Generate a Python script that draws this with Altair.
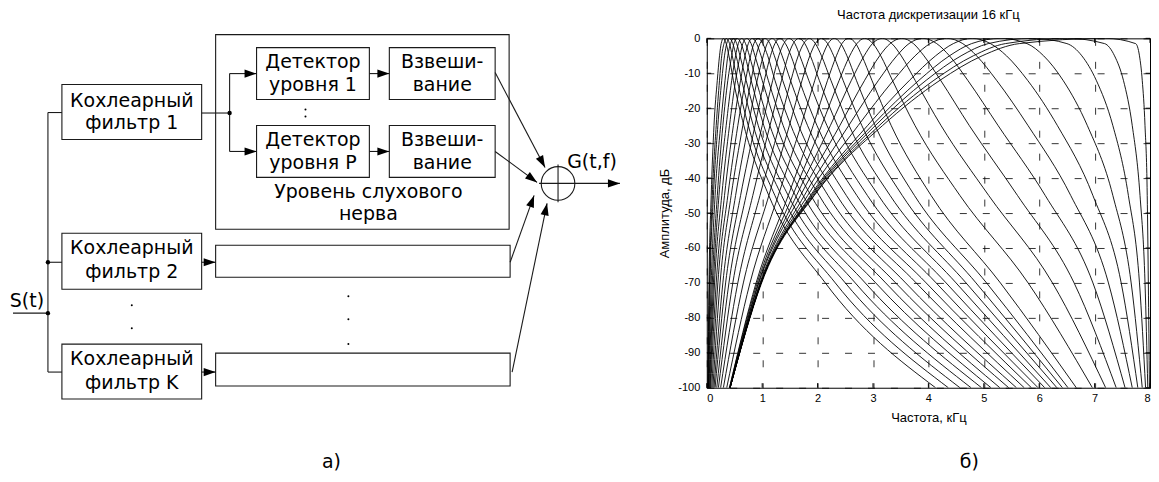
import math
import altair as alt
import pandas as pd

FONT = "Liberation Sans"
DFONT = "DejaVu Sans"
INK = "#1a1a1a"

# ================= left: block diagram (page pixel coordinates) =================
BOX_X1 = [61, 61, 61, 256, 256, 389, 389, 215, 215, 215]
BOX_X2 = [201, 201, 201, 369, 369, 495, 495, 509, 510, 510]
BOX_Y1 = [84, 233, 344, 47, 125, 47, 125, 34, 245, 353]
BOX_Y2 = [139, 289, 399, 99, 177, 99, 177, 229, 277, 386]

TXT_X = [131, 131, 131, 131, 131, 131, 312.5, 312.5, 312.5, 312.5, 442, 442, 442, 442, 368, 368, 592, 26, 331, 970]
TXT_Y = [106, 129, 254, 278, 365, 389, 67, 90, 145.5, 168.5, 67, 90, 145.5, 168.5, 198, 220, 168, 307, 468, 468]
TXT_S = ["Кохлеарный", "фильтр 1", "Кохлеарный", "фильтр 2", "Кохлеарный", "фильтр K",
         "Детектор", "уровня 1", "Детектор", "уровня P", "Взвеши-", "вание", "Взвеши-", "вание",
         "Уровень слухового", "нерва", "G(t,f)", "S(t)", "а)", "б)"]

SEG_X1 = [47, 47, 47, 47, 12, 201, 229, 558, 539]
SEG_Y1 = [112, 112, 262, 372, 313, 112.5, 73, 164, 183]
SEG_X2 = [47, 61, 61, 61, 47, 229, 229, 558, 577]
SEG_Y2 = [372, 112, 262, 372, 313, 112.5, 151, 202, 183]

ARR_X1 = [229, 229, 369, 369, 495, 495, 510, 512, 201, 201, 577]
ARR_Y1 = [73, 151, 73, 151, 72, 151, 262, 372, 262, 372, 183]
ARR_X2 = [256, 256, 389, 389, 545, 537, 534, 547, 215, 215, 620]
ARR_Y2 = [73, 151, 73, 151, 167, 182, 195, 203, 262, 372, 183]

JDOT_X = [229, 47, 47]
JDOT_Y = [112.5, 262, 313]
SDOT_X = [131, 131, 348, 348, 348, 305, 305]
SDOT_Y = [305, 328, 296, 319, 344, 109, 116]
SUM_X = [558]
SUM_Y = [183]

XS = alt.Scale(domain=[8, 707], nice=False, zero=False)
YS = alt.Scale(domain=[37.7, 470], nice=False, zero=False, reverse=True)

boxes = pd.DataFrame({"x": BOX_X1, "x2": BOX_X2, "y": BOX_Y1, "y2": BOX_Y2})
texts = pd.DataFrame({"x": TXT_X, "y": TXT_Y, "t": TXT_S})
segs = pd.DataFrame({"x": SEG_X1, "y": SEG_Y1, "x2": SEG_X2, "y2": SEG_Y2})
arrs = pd.DataFrame({"x": ARR_X1, "y": ARR_Y1, "x2": ARR_X2, "y2": ARR_Y2})
arrs["ang"] = [(math.degrees(math.atan2(b - a, -(d - c)))) % 360
               for a, c, b, d in zip(ARR_X1, ARR_Y1, ARR_X2, ARR_Y2)]
jd = pd.DataFrame({"x": JDOT_X, "y": JDOT_Y})
sd = pd.DataFrame({"x": SDOT_X, "y": SDOT_Y})
sm = pd.DataFrame({"x": SUM_X, "y": SUM_Y})

def X(f="x"):
    return alt.X(f + ":Q", scale=XS, axis=None)
def Y(f="y"):
    return alt.Y(f + ":Q", scale=YS, axis=None)

l_boxes = alt.Chart(boxes).mark_rect(fillOpacity=0, stroke=INK, strokeWidth=1.1).encode(
    x=X(), x2="x2:Q", y=Y(), y2="y2:Q")
l_segs = alt.Chart(segs).mark_rule(color=INK, strokeWidth=1.1).encode(x=X(), x2="x2:Q", y=Y(), y2="y2:Q")
l_arrs = alt.Chart(arrs).mark_rule(color=INK, strokeWidth=1.1).encode(x=X(), x2="x2:Q", y=Y(), y2="y2:Q")
ARROW = "M0,0L-0.34,1L0.34,1Z"
l_heads = alt.Chart(arrs).mark_point(shape=ARROW, filled=True, size=576, color="black", opacity=1).encode(
    x=X("x2"), y=Y("y2"), angle=alt.Angle("ang:Q", scale=None))
l_jd = alt.Chart(jd).mark_point(shape="circle", filled=True, size=19, color="black", opacity=1).encode(x=X(), y=Y())
l_sd = alt.Chart(sd).mark_point(shape="circle", filled=True, size=4, color="black", opacity=1).encode(x=X(), y=Y())
l_sum = alt.Chart(sm).mark_point(shape="circle", filled=False, size=1134, color=INK, strokeWidth=1.1, opacity=1).encode(x=X(), y=Y())
l_txt = alt.Chart(texts).mark_text(font=DFONT, fontSize=19, align="center", baseline="alphabetic", color="black").encode(
    x=X(), y=Y(), text="t:N")

left = alt.layer(l_boxes, l_segs, l_arrs, l_heads, l_jd, l_sd, l_sum, l_txt).properties(
    width=699, height=432.3, view=alt.ViewBackground(stroke="transparent"))

# ================= right: cochlear filter bank responses =================
# each curve: frequency (kHz) where it crosses the levels LEV on its rising side,
# the frequency of its 0 dB peak, and the crossings on its falling side
LEV = [-100, -70, -45, -25, -12, -5, -1.5]
FC = [0.30, 0.35, 0.41, 0.48, 0.55, 0.63, 0.72, 0.82, 0.93, 1.05,
      1.18, 1.32, 1.48, 1.66, 1.85, 2.07, 2.30, 2.56, 2.85, 3.17, 3.52, 3.90, 4.33, 4.79, 5.31, 5.88, 6.51, 7.20]
RISE = [
    [0.02, 0.04, 0.08, 0.13, 0.19, 0.23, 0.26],
    [0.02, 0.05, 0.10, 0.17, 0.23, 0.27, 0.31],
    [0.03, 0.06, 0.12, 0.20, 0.27, 0.32, 0.36],
    [0.03, 0.08, 0.15, 0.25, 0.33, 0.38, 0.43],
    [0.04, 0.10, 0.19, 0.29, 0.38, 0.45, 0.49],
    [0.05, 0.12, 0.22, 0.35, 0.45, 0.52, 0.57],
    [0.06, 0.14, 0.27, 0.41, 0.52, 0.60, 0.65],
    [0.07, 0.17, 0.32, 0.48, 0.61, 0.69, 0.75],
    [0.09, 0.20, 0.38, 0.56, 0.70, 0.79, 0.85],
    [0.11, 0.24, 0.44, 0.65, 0.80, 0.89, 0.96],
    [0.13, 0.29, 0.52, 0.75, 0.91, 1.02, 1.09],
    [0.15, 0.34, 0.61, 0.87, 1.04, 1.15, 1.23],
    [0.18, 0.40, 0.71, 1.00, 1.19, 1.30, 1.39],
    [0.21, 0.47, 0.83, 1.14, 1.35, 1.47, 1.56],
    [0.25, 0.56, 0.96, 1.31, 1.52, 1.65, 1.75],
    [0.30, 0.66, 1.12, 1.49, 1.72, 1.86, 1.96],
    [0.36, 0.78, 1.29, 1.70, 1.95, 2.09, 2.19],
    [0.41, 0.89, 1.47, 1.92, 2.18, 2.34, 2.44],
    [0.41, 0.91, 1.55, 2.07, 2.39, 2.58, 2.71],
    [0.42, 0.93, 1.62, 2.23, 2.61, 2.84, 2.99],
    [0.42, 0.94, 1.69, 2.40, 2.85, 3.12, 3.31],
    [0.42, 0.96, 1.76, 2.56, 3.10, 3.43, 3.65],
    [0.42, 0.97, 1.82, 2.73, 3.37, 3.76, 4.03],
    [0.42, 0.98, 1.87, 2.90, 3.66, 4.13, 4.45],
    [0.42, 0.98, 1.89, 2.98, 3.83, 4.38, 4.78],
    [0.42, 0.98, 1.91, 3.04, 3.96, 4.59, 5.08],
    [0.42, 0.98, 1.93, 3.11, 4.10, 4.81, 5.39],
    [0.42, 0.99, 1.94, 3.17, 4.21, 4.97, 5.64],
]
FALL = [
    [4.13, 2.14, 1.12, 0.67, 0.48, 0.40, 0.35],
    [4.36, 2.32, 1.23, 0.75, 0.55, 0.46, 0.41],
    [4.57, 2.50, 1.35, 0.84, 0.63, 0.53, 0.47],
    [4.77, 2.68, 1.47, 0.93, 0.71, 0.60, 0.54],
    [4.96, 2.86, 1.60, 1.03, 0.80, 0.69, 0.62],
    [5.13, 3.05, 1.74, 1.14, 0.89, 0.77, 0.70],
    [5.29, 3.23, 1.88, 1.26, 1.00, 0.87, 0.80],
    [5.45, 3.41, 2.03, 1.38, 1.11, 0.98, 0.90],
    [5.59, 3.59, 2.19, 1.52, 1.23, 1.10, 1.01],
    [5.73, 3.78, 2.35, 1.66, 1.37, 1.22, 1.14],
    [5.86, 3.96, 2.52, 1.82, 1.51, 1.36, 1.27],
    [5.98, 4.14, 2.71, 1.99, 1.67, 1.52, 1.42],
    [6.10, 4.32, 2.90, 2.17, 1.84, 1.68, 1.59],
    [6.21, 4.50, 3.10, 2.36, 2.03, 1.87, 1.77],
    [6.32, 4.68, 3.31, 2.57, 2.24, 2.07, 1.96],
    [6.42, 4.86, 3.53, 2.80, 2.46, 2.29, 2.18],
    [6.52, 5.05, 3.75, 3.04, 2.70, 2.53, 2.42],
    [6.67, 5.30, 4.05, 3.33, 2.98, 2.80, 2.69],
    [6.96, 5.80, 4.57, 3.76, 3.35, 3.14, 3.00],
    [7.20, 6.24, 5.09, 4.23, 3.76, 3.51, 3.34],
    [7.39, 6.63, 5.61, 4.74, 4.22, 3.92, 3.73],
    [7.55, 6.97, 6.11, 5.26, 4.71, 4.38, 4.15],
    [7.68, 7.25, 6.57, 5.80, 5.23, 4.87, 4.62],
    [7.78, 7.48, 6.97, 6.33, 5.79, 5.41, 5.12],
    [7.86, 7.66, 7.33, 6.87, 6.43, 6.08, 5.78],
    [7.92, 7.81, 7.61, 7.33, 7.03, 6.77, 6.50],
    [7.96, 7.91, 7.82, 7.68, 7.52, 7.36, 7.18],
    [7.99, 7.97, 7.95, 7.91, 7.86, 7.81, 7.74],
]

rows = []
for k in range(len(FC)):
    for f, d in zip(RISE[k], LEV):
        rows.append({"f": f, "db": d, "k": k})
    rows.append({"f": FC[k], "db": 0, "k": k})
    for f, d in zip(FALL[k], LEV):
        rows.append({"f": f, "db": d, "k": k})
cdf = pd.DataFrame(rows)

XT = [0, 1, 2, 3, 4, 5, 6, 7, 8]
YT = [0, -10, -20, -30, -40, -50, -60, -70, -80, -90, -100]
xsc = alt.Scale(domain=[0, 8], nice=False, zero=False)
ysc = alt.Scale(domain=[-100, 0], nice=False, zero=False)
AX_X = alt.Axis(values=XT, title="Частота, кГц", grid=True, gridDash=[7, 16], gridColor="black", gridWidth=0.8,
                ticks=False, domain=False, labelPadding=5, labelFontSize=11, labelFlush=True,
                labelExpr="'' + datum.value", titleX=222, titleY=30, titleAlign="center",
                titleBaseline="middle", titleFontSize=13)
AX_Y = alt.Axis(values=YT, title="Амплитуда, дБ", grid=True, gridDash=[7, 16], gridColor="black", gridWidth=0.8,
                ticks=False, domain=False, labelPadding=7, labelFontSize=11,
                labelExpr="'' + datum.value", titleX=-42, titleY=175, titleAngle=270, titleAlign="center",
                titleBaseline="middle", titleFontSize=13)

curves = alt.Chart(cdf).mark_line(color="black", strokeWidth=0.9, clip=True, interpolate="monotone").encode(
    x=alt.X("f:Q", scale=xsc, axis=AX_X),
    y=alt.Y("db:Q", scale=ysc, axis=AX_Y),
    detail="k:N", order="f:Q")

tk = pd.DataFrame({
    "f": XT + XT + [0] * 11 + [8] * 11,
    "f2": XT + XT + [0.08] * 11 + [7.92] * 11,
    "db": [0] * 9 + [-100] * 9 + YT + YT,
    "db2": [-1.3] * 9 + [-98.7] * 9 + YT + YT,
})
ticks = alt.Chart(tk).mark_rule(color="black", strokeWidth=1).encode(
    x=alt.X("f:Q", scale=xsc, axis=AX_X), x2="f2:Q", y=alt.Y("db:Q", scale=ysc, axis=AX_Y), y2="db2:Q")

right = alt.layer(curves, ticks).properties(
    width=444, height=350,
    title=alt.TitleParams("Частота дискретизации 16 кГц", offset=0, baseline="alphabetic", anchor="middle",
                          fontSize=13, font=FONT, fontWeight="normal", color="black"))

chart = alt.hconcat(left, right, spacing=0, bounds="flush").properties(padding=0).configure_view(
    stroke="black", strokeWidth=1).configure_axis(labelFont=FONT, titleFont=FONT, labelColor="black",
    titleColor="black", titleFontWeight="normal")

chart.save("out.html", embed_options={"renderer": "svg", "actions": False})
